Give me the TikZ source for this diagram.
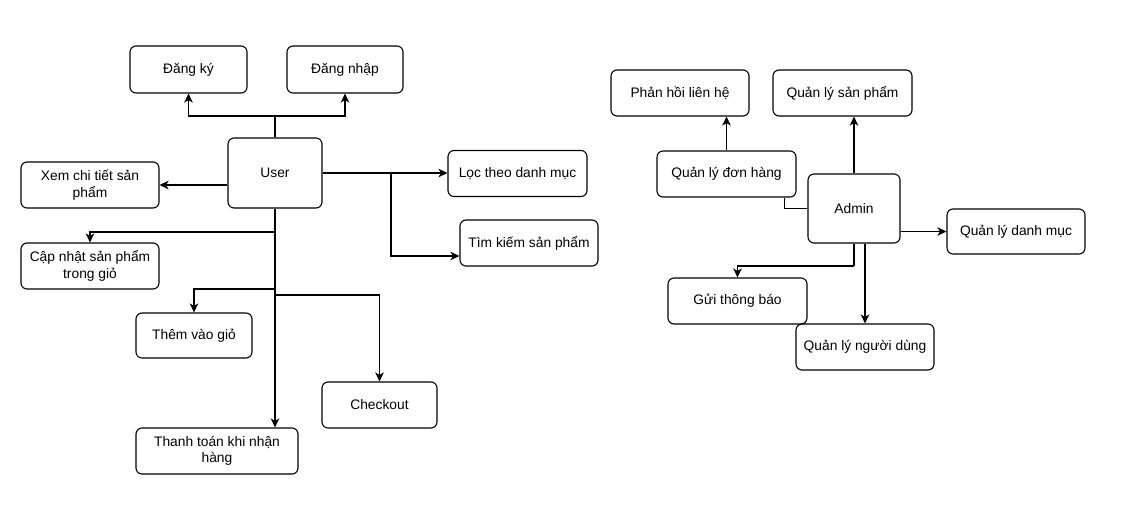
\documentclass[tikz,border=0pt]{standalone}
\usepackage{fontspec}
\setmainfont{Liberation Sans}
\usetikzlibrary{arrows.meta}

\begin{document}
\begin{tikzpicture}[x=1pt,y=-1pt,line width=1.1pt,
  box/.style={draw,rounded corners=6pt,minimum width=138pt,minimum height=46pt,
    align=center,inner sep=2pt,font=\fontsize{13.8}{16.5}\selectfont},
  arr/.style={-{Stealth[length=9pt,width=8.5pt,inset=2.5pt]}}]
\useasboundingbox (0,0) rectangle (1123,517);

\node[box,minimum width=94pt,minimum height=70pt] (user) at (275,173) {User};
\node[box,minimum width=117pt,minimum height=47pt] (dangky) at (188.5,69.5) {Đăng ký};
\node[box,minimum width=116pt,minimum height=47pt] (dangnhap) at (345,69.5) {Đăng nhập};
\node[box] (xem) at (90,185) {Xem chi tiết sản\\phẩm};
\node[box,minimum width=139pt] (loc) at (517.5,173.5) {Lọc theo danh mục};
\node[box] (timkiem) at (529,243) {Tìm kiếm sản phẩm};
\node[box] (capnhat) at (90,266) {Cập nhật sản phẩm\\trong giỏ};
\node[box,minimum width=116pt,minimum height=45pt] (them) at (194,335.5) {Thêm vào giỏ};
\node[box,minimum width=115pt] (checkout) at (379.5,405) {Checkout};
\node[box,minimum width=162pt] (thanhtoan) at (217,451) {Thanh toán khi nhận\\hàng};

\coordinate (top) at (275,116);
\coordinate (rj) at (391,173);
\coordinate (j1) at (275,232);
\coordinate (j2) at (275,289);
\coordinate (j3) at (275,295);

\draw (user.north) -- (top);
\draw[arr] (top) -| (dangky.south);
\draw[arr] (top) -| (dangnhap.south);
\draw[arr] (xem.east -| user.west) -- (xem.east);
\draw[arr] (user.east) -- (user.east -| loc.west);
\draw[arr] (rj) |- ([yshift=-13pt]timkiem.west);
\draw[arr] (user.south) -- (user.south |- thanhtoan.north);
\draw[arr] (j1) -| (capnhat.north);
\draw[arr] (j2) -| (them.north);
\draw[arr] (j3) -| (checkout.north);

\node[box,minimum width=92pt,minimum height=69pt] (admin) at (854,208.5) {Admin};
\node[box] (phanhoi) at (680,93) {Phản hồi liên hệ};
\node[box,minimum width=139pt] (qlsp) at (842.5,93) {Quản lý sản phẩm};
\node[box,minimum width=139pt] (qldh) at (726.5,174) {Quản lý đơn hàng};
\node[box,minimum height=45pt] (qldm) at (1016,231.5) {Quản lý danh mục};
\node[box,minimum width=139pt] (gui) at (737.5,301) {Gửi thông báo};
\node[box] (qlnd) at (865,347) {Quản lý người dùng};

\coordinate (aj) at (854,266);

\draw[arr] (admin.north) -- (admin.north |- qlsp.south);
\draw[arr] (qldh.north) -- (qldh.north |- phanhoi.south);
\draw (admin.west) -| ([xshift=-12pt]qldh.south east);
\draw[arr] (admin.east |- qldm.west) -- (qldm.west);
\draw (admin.south) -- (aj);
\draw[arr] (aj) -| (gui.north);
\draw[arr] (qlnd.north |- admin.south) -- (qlnd.north);
\end{tikzpicture}
\end{document}
